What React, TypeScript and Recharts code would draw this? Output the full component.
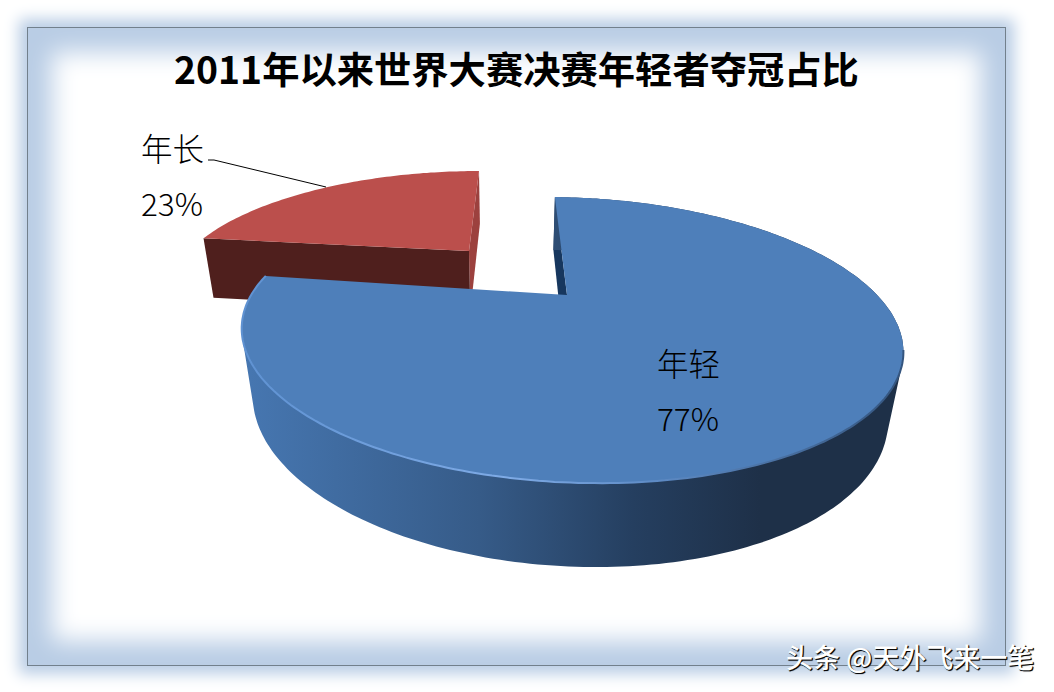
import { PieChart, Pie, Cell } from 'recharts';

// 年长 comes first so the big slice paints over it
const names = ['年长', '年轻'];
const shares = [23, 77];
const chartTitle = '2011年以来世界大赛决赛年轻者夺冠占比';
const watermark = '头条 @天外飞来一笔';

const FONT = '"Noto Sans CJK SC", "Noto Sans", sans-serif';
const CX = 518;
const CY = 273;
const RADIUS = 312;
const START_ANGLE = 90 - (360 * shares[1]) / 100;

const data = names.map((name, i) => ({ name, value: shares[i] }));

// fake 3d: perspective of the exploded pie, per slice (all relative to the radius)
const views: any = {
    年轻: {
        dx: 49, dy: 22, a: 1.005, b: 0.413, c: -0.051, d: -0.012, k: 0.315,
        lower: { x0: -2, y0: 63.6, sx: 0.96, sy: 1.108 },
        top: '#4e7fba', face: '#17375e',
    },
    年长: {
        dx: -49, dy: -22, a: 0.897, b: 0.337, c: 0.042, d: 0, k: 0.315,
        lower: { x0: 1.3, y0: 60.7, sx: 0.967, sy: 1.1 },
        top: '#bb4f4c', face: '#4f1f1d', sideFace: '#9c413e',
    },
};

const labelSpots: any = {
    年轻: { x: 657, y1: 376, y2: 431 },
    年长: { x: 141, y1: 161, y2: 216 },
};

const project = (v: any, cx: number, cy: number, r: number, deg: number) => {
    // recharts angle: counter clockwise from 3 o'clock
    const t = (deg * Math.PI) / 180;
    const u = Math.cos(t);
    const w = Math.sin(t);
    const s = 1 / (1 + v.k * w);
    return {
        x: cx + v.dx + (v.a * u + v.c * w) * r * s,
        y: cy + v.dy - (v.b * w + v.d * u) * r * s,
        u,
        w,
    };
};

const dropDown = (v: any, cx: number, cy: number, p: any) => {
    const ax = cx + v.dx;
    const ay = cy + v.dy;
    return {
        x: ax + v.lower.x0 + (p.x - ax) * v.lower.sx,
        y: ay + v.lower.y0 + (p.y - ay) * v.lower.sy,
    };
};

const toPath = (pts: any[]) => pts.map((p, i) => `${i ? 'L' : 'M'}${p.x.toFixed(1)},${p.y.toFixed(1)}`).join(' ');

// all quads wound the same way, else nonzero fill cancels them where they overlap
const wound = (pts: any[]) => {
    let area = 0;
    pts.forEach((p, i) => {
        const n = pts[(i + 1) % pts.length];
        area += p.x * n.y - n.x * p.y;
    });
    return area < 0 ? [...pts].reverse() : pts;
};

const Slice3D = (props: any) => {
    const { cx, cy, outerRadius, startAngle, endAngle, name } = props;
    const v = views[name];
    const rim: any[] = [];
    const steps = Math.ceil(Math.abs(endAngle - startAngle));
    for (let i = 0; i <= steps; i++) {
        rim.push(project(v, cx, cy, outerRadius, startAngle + ((endAngle - startAngle) * i) / steps));
    }
    const lowerRim = rim.map((p) => dropDown(v, cx, cy, p));
    const apex = { x: cx + v.dx, y: cy + v.dy };
    const lowerApex = dropDown(v, cx, cy, apex);
    const first = rim[0];
    const last = rim[rim.length - 1];

    if (name === '年长') {
        return (
            <g>
                <path d={toPath([apex, last, lowerRim[lowerRim.length - 1], lowerApex]) + ' Z'} fill={v.sideFace} />
                <path d={toPath([first, apex, lowerApex, lowerRim[0]]) + ' Z'} fill={v.face} />
                <path d={toPath([apex, ...rim]) + ' Z'} fill={v.top} />
            </g>
        );
    }
    // side wall: small quads in one path, so the silhouette between both rims gets filled without seams
    const wall = rim
        .slice(1)
        .map((p, i) => toPath(wound([rim[i], p, lowerRim[i + 1], lowerRim[i]])) + ' Z')
        .join(' ');
    const frontRim = rim.filter((p) => (p.u > 0 ? p.w < -0.35 : p.w < 0.2));
    return (
        <g>
            <path d={toPath([apex, first, lowerRim[0], lowerApex]) + ' Z'} fill={v.face} />
            <path d={wall} fill="url(#blueWall)" />
            <path d={toPath([apex, ...rim]) + ' Z'} fill={v.top} />
            <path d={toPath(frontRim)} fill="none" stroke="url(#blueRim)" strokeWidth={2} />
        </g>
    );
};

const SliceLabel = (props: any) => {
    const { name, percent } = props;
    const spot = labelSpots[name];
    return (
        <g style={{ fontFamily: FONT, fontSize: 31.5, fontWeight: 300 }} fill="#000">
            <text x={spot.x} y={spot.y1}>{name}</text>
            <text x={spot.x} y={spot.y2}>{`${Math.round(percent * 100)}%`}</text>
            {name === '年长' && (
                <polyline points="208,160 214,160 326,187" fill="none" stroke="#000" strokeWidth={1} />
            )}
        </g>
    );
};

const App = () => {
    return (
        <div style={{ position: 'absolute', left: 0, top: 0, width: 1054, height: 692, background: '#fff', overflow: 'hidden' }}>
            <div
                style={{
                    position: 'absolute',
                    left: 27,
                    top: 27,
                    width: 977,
                    height: 637,
                    border: '1px solid #72808c',
                    background: '#fff',
                    boxShadow: 'inset 0 0 24px 24px #b9cde5, 0 0 14px 8px #b9cde5',
                }}
            />
            <div style={{ position: 'absolute', left: 0, top: 0 }}>
                <PieChart width={1054} height={692} margin={{ top: 0, right: 0, bottom: 0, left: 0 }}>
                    <defs>
                        <linearGradient id="blueWall" gradientUnits="userSpaceOnUse" x1="250" y1="0" x2="760" y2="0">
                            <stop offset="0%" stopColor="#4676b0" />
                            <stop offset="45%" stopColor="#365b88" />
                            <stop offset="75%" stopColor="#253f60" />
                            <stop offset="100%" stopColor="#1e3048" />
                        </linearGradient>
                        <linearGradient id="blueRim" gradientUnits="userSpaceOnUse" x1="245" y1="0" x2="900" y2="0">
                            <stop offset="0%" stopColor="#5f92d2" />
                            <stop offset="40%" stopColor="#7fabe6" />
                            <stop offset="62%" stopColor="#5f8cc6" />
                            <stop offset="100%" stopColor="#34557f" />
                        </linearGradient>
                    </defs>
                    <text x={516.5} y={84} textAnchor="middle" fill="#000" style={{ fontFamily: FONT, fontSize: 37.3, fontWeight: 700 }}>
                        {chartTitle}
                    </text>
                    <Pie
                        data={data}
                        dataKey="value"
                        nameKey="name"
                        cx={CX}
                        cy={CY}
                        innerRadius={0}
                        outerRadius={RADIUS}
                        startAngle={START_ANGLE}
                        endAngle={START_ANGLE - 360}
                        stroke="none"
                        shape={Slice3D}
                        label={SliceLabel}
                        labelLine={false}
                        isAnimationActive={false}
                    >
                        {data.map((d) => (
                            <Cell key={d.name} fill={views[d.name].top} />
                        ))}
                    </Pie>
                </PieChart>
            </div>
            <div
                style={{
                    position: 'absolute',
                    left: 786,
                    top: 638,
                    fontFamily: FONT,
                    fontSize: 27,
                    fontWeight: 500,
                    lineHeight: '38px',
                    whiteSpace: 'nowrap',
                    color: '#fff',
                    textShadow: '1px 1px 1px #000, 1px 1px 0 #333',
                }}
            >
                {watermark}
            </div>
        </div>
    );
};

export default App;
